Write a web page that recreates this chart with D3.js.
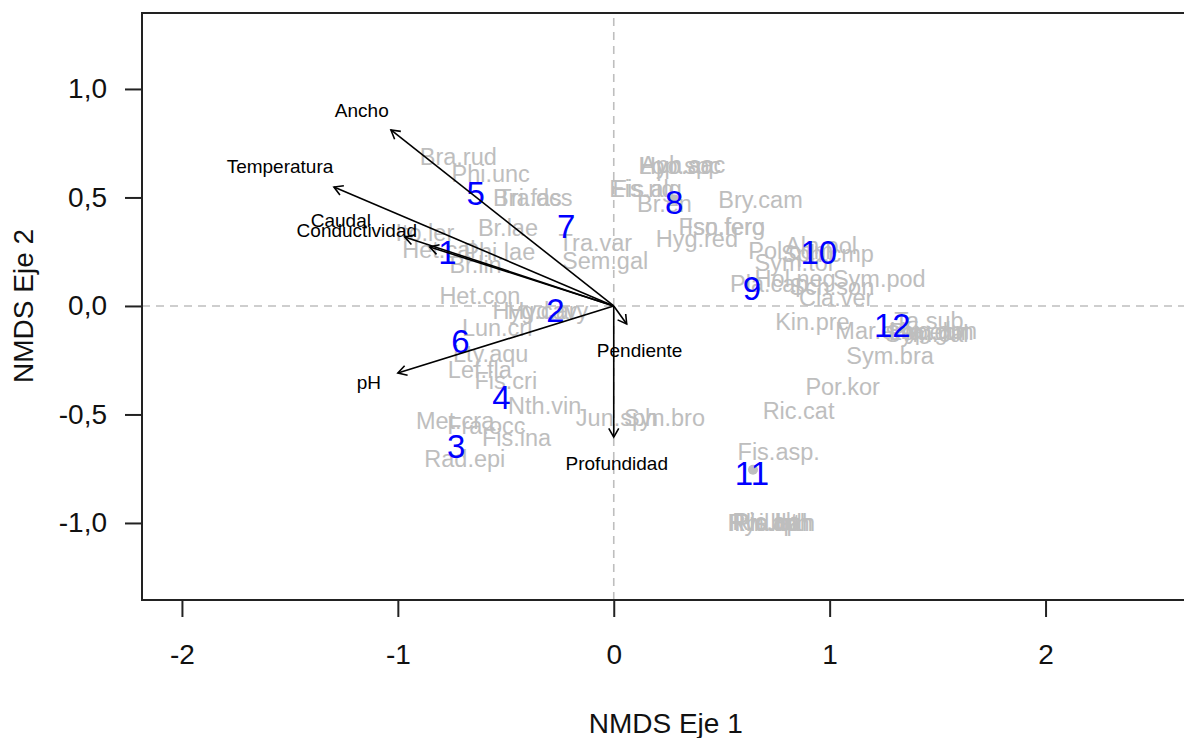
<!DOCTYPE html>
<html>
<head>
<meta charset="utf-8">
<script src="https://cdn.jsdelivr.net/npm/d3@7"></script>
<style>
  body { margin: 0; background: #fff; }
  svg { display: block; font-family: "Liberation Sans", Arial, sans-serif; }
</style>
</head>
<body>
<div class="canvas"></div>
<script>
// sitios (numeros azules)
const siteNames = ['1', '2', '3', '4', '5', '6', '7', '8', '9', '10', '11', '12'];
const siteX = [-0.77, -0.27, -0.73, -0.52, -0.64, -0.71, -0.22, 0.28, 0.64, 0.95, 0.64, 1.29];
const siteY = [0.25, -0.02, -0.645, -0.42, 0.52, -0.16, 0.37, 0.48, 0.08, 0.25, -0.77, -0.09];

// especies (texto gris)
const spNames = ['Bra.rud', 'Phi.unc', 'Tri.fas', 'Bra.dcs', 'Br.lae', 'Ito.ler', 'Het.cal', 'Phi.lae',
  'Br.lin', 'Het.con', 'Hyg.cav', 'Hyd.ary', 'Lun.cri', 'Lty.aqu', 'Lef.fla', 'Fis.cri', 'Nth.vin',
  'Met.cra', 'Fra.occ', 'Fis.ina', 'Rad.epi', 'Jun.sph', 'Syn.bro', 'Tra.var', 'Sem.gal',
  'Aph.sac', 'Lop.spc', 'Hyo.aq', 'Eis.rig', 'Fis.alg', 'Br.en', 'Bry.cam', 'Fso.fero', 'Isn.ferg',
  'Hyg.red', 'Pol.com', 'Sym.tor', 'Aln.pol', 'Sph.cmp', 'Pla.cap', 'Hol.neg', 'Sch.son', 'Sym.pod',
  'Cla.ver', 'Kin.pre', 'Ta.sub', 'Mar.emi', 'Pla.ebn', 'Sym.cal', 'Lep.gun', 'Hyg.don',
  'Sym.bra', 'Por.kor', 'Ric.cat', 'Fis.asp.', 'Rhi.bph', 'Pla.lat', 'Hyd.bah', 'Ric.alt', 'Pis.dph'];
const spX = [-0.72, -0.57, -0.39, -0.375, -0.49, -0.875, -0.81, -0.53,
  -0.64, -0.62, -0.365, -0.305, -0.54, -0.57, -0.62, -0.50, -0.32,
  -0.735, -0.59, -0.45, -0.69, 0.015, 0.235, -0.085, -0.04,
  0.32, 0.305, 0.29, 0.13, 0.155, 0.235, 0.68, 0.50, 0.52,
  0.385, 0.82, 0.84, 0.96, 0.99, 0.72, 0.84, 1.01, 1.23,
  1.03, 0.92, 1.46, 1.22, 1.46, 1.45, 1.47, 1.48,
  1.28, 1.06, 0.856, 0.764, 0.72, 0.71, 0.73, 0.70, 0.74];
const spY = [0.69, 0.61, 0.50, 0.50, 0.36, 0.34, 0.26, 0.25,
  0.19, 0.05, -0.02, -0.02, -0.10, -0.22, -0.295, -0.345, -0.46,
  -0.53, -0.55, -0.605, -0.705, -0.515, -0.515, 0.29, 0.21,
  0.65, 0.645, 0.645, 0.54, 0.54, 0.47, 0.49, 0.365, 0.365,
  0.31, 0.255, 0.20, 0.28, 0.24, 0.105, 0.125, 0.09, 0.125,
  0.037, -0.074, -0.065, -0.115, -0.12, -0.125, -0.12, -0.115,
  -0.23, -0.37, -0.48, -0.673, -1.0, -1.0, -1.0, -0.995, -1.0];

// puntos grises visibles
const dotX = [0.28, 0.645];
const dotY = [0.49, -0.755];

// vectores ambientales (envfit)
const envNames = ['Ancho', 'Temperatura', 'Caudal', 'Conductividad', 'pH', 'Pendiente', 'Profundidad'];
const envX = [-1.032, -1.296, -0.852, -0.968, -1.0, 0.06, 0.0];
const envY = [0.811, 0.548, 0.272, 0.318, -0.309, -0.083, -0.604];
const envLabX = [-1.167, -1.546, -1.264, -1.19, -1.134, 0.12, 0.014];
const envLabY = [0.903, 0.645, 0.396, 0.35, -0.35, -0.203, -0.723];

const xTicks = [-2, -1, 0, 1, 2];
const yTicks = [-1, -0.5, 0, 0.5, 1];

const width = 1184, height = 738;
const svg = d3.select('.canvas').append('svg')
  .attr('width', width)
  .attr('height', height);

const x = d3.scaleLinear().domain([-2.185, 2.72]).range([142, 1201]);
const y = d3.scaleLinear().domain([-1.355, 1.35]).range([600, 13]);

const es = d3.formatLocale({ decimal: ',', thousands: '.', grouping: [3], currency: ['', ''], minus: '-' });

// lineas de referencia
svg.append('line')
  .attr('x1', x(0)).attr('x2', x(0)).attr('y1', y.range()[0]).attr('y2', y.range()[1])
  .attr('stroke', '#bebebe').attr('stroke-width', 1.6).attr('stroke-dasharray', '8,6');
svg.append('line')
  .attr('x1', x.range()[0]).attr('x2', x.range()[1]).attr('y1', y(0)).attr('y2', y(0))
  .attr('stroke', '#bebebe').attr('stroke-width', 1.6).attr('stroke-dasharray', '8,6');

// especies
svg.append('g').selectAll('text')
  .data(spNames)
  .join('text')
  .attr('x', (d, i) => x(spX[i]))
  .attr('y', (d, i) => y(spY[i]))
  .attr('dy', '0.36em')
  .attr('text-anchor', 'middle')
  .attr('font-size', 23.5)
  .attr('fill', '#bebebe')
  .text(d => d);

svg.append('g').selectAll('circle')
  .data(dotX)
  .join('circle')
  .attr('cx', (d, i) => x(d))
  .attr('cy', (d, i) => y(dotY[i]))
  .attr('r', 5)
  .attr('fill', '#bebebe');

// sitios
svg.append('g').selectAll('text')
  .data(siteNames)
  .join('text')
  .attr('x', (d, i) => x(siteX[i]))
  .attr('y', (d, i) => y(siteY[i]))
  .attr('dy', '0.36em')
  .attr('text-anchor', 'middle')
  .attr('font-size', 33)
  .attr('fill', '#0000ff')
  .text(d => d);

// flechas
const arrows = svg.append('g');
envNames.forEach((name, i) => {
  const x0 = x(0), y0 = y(0), x1 = x(envX[i]), y1 = y(envY[i]);
  const a = Math.atan2(y1 - y0, x1 - x0);
  const len = 10, ang = Math.PI / 6;
  arrows.append('line')
    .attr('x1', x0).attr('y1', y0).attr('x2', x1).attr('y2', y1)
    .attr('stroke', '#000').attr('stroke-width', 1.6);
  arrows.append('path')
    .attr('d', `M${x1 - len * Math.cos(a - ang)},${y1 - len * Math.sin(a - ang)}L${x1},${y1}L${x1 - len * Math.cos(a + ang)},${y1 - len * Math.sin(a + ang)}`)
    .attr('fill', 'none').attr('stroke', '#000').attr('stroke-width', 1.6);
  arrows.append('text')
    .attr('x', x(envLabX[i]))
    .attr('y', y(envLabY[i]))
    .attr('dy', '0.36em')
    .attr('text-anchor', 'middle')
    .attr('font-size', 19)
    .attr('fill', '#000')
    .text(name);
});

// caja
svg.append('rect')
  .attr('x', x.range()[0]).attr('y', y.range()[1])
  .attr('width', x.range()[1] - x.range()[0])
  .attr('height', y.range()[0] - y.range()[1])
  .attr('fill', 'none').attr('stroke', '#222').attr('stroke-width', 2);

// ejes
const xAxis = svg.append('g')
  .attr('transform', `translate(0,${y.range()[0]})`)
  .call(d3.axisBottom(x).tickValues(xTicks).tickSize(17).tickPadding(27).tickFormat(es.format('d')));
const yAxis = svg.append('g')
  .attr('transform', `translate(${x.range()[0]},0)`)
  .call(d3.axisLeft(y).tickValues(yTicks).tickSize(17).tickPadding(18).tickFormat(es.format('.1f')));

[xAxis, yAxis].forEach(g => {
  g.select('.domain').remove();
  g.selectAll('line').attr('stroke', '#222').attr('stroke-width', 2);
  g.selectAll('text').attr('font-size', 28).attr('fill', '#111')
    .attr('font-family', '"Liberation Sans", Arial, sans-serif');
});

svg.append('text')
  .attr('x', x(0) + 52).attr('y', 733)
  .attr('text-anchor', 'middle').attr('font-size', 28).attr('fill', '#111')
  .text('NMDS Eje 1');
svg.append('text')
  .attr('transform', `translate(33,${y(0) + 0}) rotate(-90)`)
  .attr('text-anchor', 'middle').attr('font-size', 28).attr('fill', '#111')
  .text('NMDS Eje 2');
</script>
</body>
</html>
